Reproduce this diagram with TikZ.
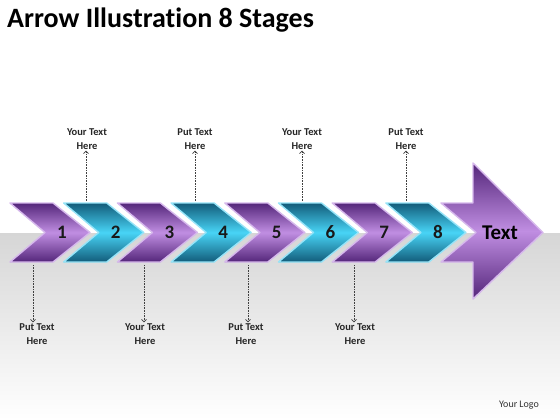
\documentclass[tikz,border=0pt]{standalone}
\usepackage{fontspec}
\setmainfont{Carlito}[Ligatures={NoCommon}]
\usepackage{tikz}
\usetikzlibrary{arrows, arrows.meta}
\definecolor{purpdark}{RGB}{84,38,122}
\definecolor{purplight}{RGB}{192,142,226}
\definecolor{purpedge}{RGB}{214,184,236}
\definecolor{bluedark}{RGB}{18,92,122}
\definecolor{bluelight}{RGB}{72,212,246}
\definecolor{blueedge}{RGB}{150,228,248}
\definecolor{floorgray}{RGB}{214,214,214}
\tikzset{
  purplechev/.style={draw=purpedge, line width=1.4pt, line join=round, top color=purpdark, bottom color=purpdark, middle color=purplight},
  bluechev/.style={draw=blueedge, line width=1.4pt, line join=round, top color=bluedark, bottom color=bluedark, middle color=bluelight},
  num/.style={font=\fontsize{19}{19}\selectfont\bfseries, text=black!90},
  lbl/.style={font=\fontsize{10.5}{14}\selectfont\bfseries, align=center, inner sep=1pt, text=black!85},
  dotarrow/.style={densely dotted, line width=0.6pt, black!75, -{Straight Barb[length=2.5pt, width=5pt, line width=0.7pt]}}
}

\begin{document}
\begin{tikzpicture}[x=1pt, y=-1pt]
\useasboundingbox (0,0) rectangle (560,420);
\fill[white] (0,0) rectangle (560,233);
\shade[top color=floorgray, bottom color=white] (0,233) rectangle (560,420);
\node[anchor=base west, inner sep=0pt, font=\fontsize{28}{28}\selectfont\bfseries] (title) at (7,28) {Arrow Illustration 8 Stages};
% chevrons
\draw[purplechev] (10,203) -- ++(43,0) -- ++(37,29.5) -- ++(-37,29.5) -- ++(-43,0) -- ++(35,-29.5) -- cycle;
\draw[bluechev] (63.7,203) -- ++(43,0) -- ++(37,29.5) -- ++(-37,29.5) -- ++(-43,0) -- ++(35,-29.5) -- cycle;
\draw[purplechev] (117.4,203) -- ++(43,0) -- ++(37,29.5) -- ++(-37,29.5) -- ++(-43,0) -- ++(35,-29.5) -- cycle;
\draw[bluechev] (171.1,203) -- ++(43,0) -- ++(37,29.5) -- ++(-37,29.5) -- ++(-43,0) -- ++(35,-29.5) -- cycle;
\draw[purplechev] (224.8,203) -- ++(43,0) -- ++(37,29.5) -- ++(-37,29.5) -- ++(-43,0) -- ++(35,-29.5) -- cycle;
\draw[bluechev] (278.5,203) -- ++(43,0) -- ++(37,29.5) -- ++(-37,29.5) -- ++(-43,0) -- ++(35,-29.5) -- cycle;
\draw[purplechev] (332.2,203) -- ++(43,0) -- ++(37,29.5) -- ++(-37,29.5) -- ++(-43,0) -- ++(35,-29.5) -- cycle;
\draw[bluechev] (385.9,203) -- ++(43,0) -- ++(37,29.5) -- ++(-37,29.5) -- ++(-43,0) -- ++(35,-29.5) -- cycle;
% big arrow
\draw[purplechev] (441,203) -- (473,203) -- (473,163) -- (543,232.5) -- (473,299) -- (473,262) -- (441,262) -- (476,232.5) -- cycle;
\node[num] (n1) at (62,232.5) {1};
\node[num] (n2) at (115.7,232.5) {2};
\node[num] (n3) at (169.4,232.5) {3};
\node[num] (n4) at (223.1,232.5) {4};
\node[num] (n5) at (276.8,232.5) {5};
\node[num] (n6) at (330.5,232.5) {6};
\node[num] (n7) at (384.2,232.5) {7};
\node[num] (n8) at (437.9,232.5) {8};
\node[font=\fontsize{21}{21}\selectfont\bfseries] (big) at (500,232.5) {Text};
% labels above
\node[lbl] (t2) at (87,139) {Your Text\\Here};
\node[lbl] (t4) at (195,139) {Put Text\\Here};
\node[lbl] (t6) at (302,139) {Your Text\\Here};
\node[lbl] (t8) at (406,139) {Put Text\\Here};
\coordinate (c2) at (86,201);
\coordinate (c4) at (195,201);
\coordinate (c6) at (302,201);
\coordinate (c8) at (406,201);
\draw[dotarrow] (c2) -- (c2 |- t2.south);
\draw[dotarrow] (c4) -- (c4 |- t4.south);
\draw[dotarrow] (c6) -- (c6 |- t6.south);
\draw[dotarrow] (c8) -- (c8 |- t8.south);
% labels below
\node[lbl] (b1) at (37,334) {Put Text\\Here};
\node[lbl] (b3) at (145,334) {Your Text\\Here};
\node[lbl] (b5) at (246,334) {Put Text\\Here};
\node[lbl] (b7) at (355,334) {Your Text\\Here};
\coordinate (c1) at (33,265);
\coordinate (c3) at (144,265);
\coordinate (c5) at (248,265);
\coordinate (c7) at (354,265);
\draw[dotarrow] (c1) -- (c1 |- b1.north);
\draw[dotarrow] (c3) -- (c3 |- b3.north);
\draw[dotarrow] (c5) -- (c5 |- b5.north);
\draw[dotarrow] (c7) -- (c7 |- b7.north);
\node[font=\fontsize{10}{10}\selectfont, text=black!80] (logo) at (519,405) {Your Logo};
\end{tikzpicture}
\end{document}
